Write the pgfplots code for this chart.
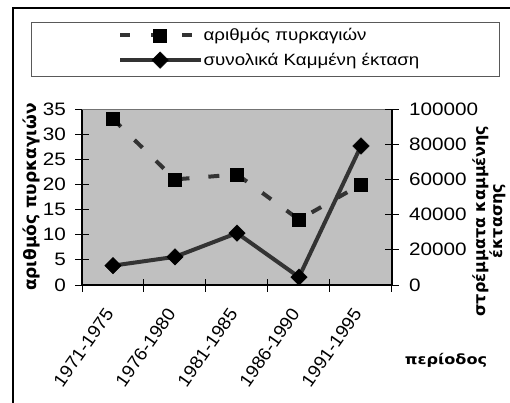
\documentclass[border=0pt]{standalone}
\usepackage{fontspec}
\setmainfont{Liberation Sans}
\newfontfamily\tickff{Liberation Sans}[FakeStretch=1.15]
\newfontfamily\rotff{Liberation Sans}[FakeStretch=1.05]
\newfontfamily\labff{DejaVu Sans}
\newfontfamily\labffH{DejaVu Sans}[FakeStretch=1.15]
\usepackage{pgfplots}
\pgfplotsset{compat=1.18}
\definecolor{plotbg}{HTML}{C0C0C0}
\definecolor{linec}{HTML}{333333}
\newcommand{\tickfont}{\tickff\fontsize{18bp}{20bp}\selectfont}
\newcommand{\rotfont}{\rotff\fontsize{18bp}{20bp}\selectfont}
\newcommand{\legfont}{\tickff\fontsize{16.3bp}{18bp}\selectfont}
\begin{document}
\begin{tikzpicture}
\path[use as bounding box] (0bp,0bp) rectangle (510bp,-403bp);
\draw[black, line width=1.3bp] (13bp,-403bp) -- (13bp,-8bp) -- (510bp,-8bp);
\draw[black!65, line width=0.9bp] (31bp,-22bp) rectangle (499bp,-76bp);
\begin{axis}[
  at={(82bp,-285bp)}, anchor=south west,
  scale only axis, width=310bp, height=176bp,
  xmin=-0.5, xmax=4.5, ymin=0, ymax=35,
  ytick={0,5,...,35},
  xtick={0,1,2,3,4},
  xticklabels={1971-1975,1976-1980,1981-1985,1986-1990,1991-1995},
  minor xtick={-0.5,0.5,...,4.5},
  major x tick style={draw=none},
  tick align=center, major tick length=13bp, minor tick length=13bp,
  tick style={black, line width=1bp},
  axis x line*=bottom, axis y line*=left,
  axis line style={black, line width=1.3bp},
  axis background/.style={fill=plotbg},
  /pgf/number format/assume math mode=true,
  yticklabel style={font=\tickfont, xshift=-6bp},
  xticklabel style={font=\rotfont, yshift=-18bp, xshift=-3bp, rotate=55, anchor=east, inner sep=1bp},
  clip=false,
  extra description/.code={\draw[black!55, line width=1bp] (rel axis cs:0,1) -- (rel axis cs:1,1);},
]
\addplot[linec, line width=4bp, dash pattern=on 11bp off 19bp,
  mark=square*, mark size=6.5bp, mark options={solid, fill=black, draw=black, line width=0.5bp}]
  coordinates {(0,33) (1,21) (2,22) (3,13) (4,20)};
\end{axis}
\begin{axis}[
  at={(82bp,-285bp)}, anchor=south west,
  scale only axis, width=310bp, height=176bp,
  xmin=-0.5, xmax=4.5, ymin=0, ymax=100000,
  ytick={0,20000,...,100000},
  scaled y ticks=false,
  axis y line*=right, axis x line=none,
  tick align=center, major tick length=13bp,
  tick style={black, line width=1bp},
  axis line style={black, line width=1.3bp},
  /pgf/number format/assume math mode=true,
  /pgf/number format/fixed,
  /pgf/number format/precision=0,
  /pgf/number format/1000 sep={},
  yticklabel style={font=\tickfont, xshift=7bp},
  clip=false,
  legend style={at={(axis description cs:0.116,1.47)}, anchor=north west, draw=none, fill=none,
    font=\legfont, inner sep=0pt, row sep=7bp, nodes={inner xsep=0.5bp}},
  legend cell align=left,
  legend image code/.code={\draw[#1, mark repeat=2, mark phase=2] plot coordinates {(0bp,0bp) (40bp,0bp) (81bp,0bp)};},
]
\addlegendimage{linec, line width=4bp, dash pattern=on 10bp off 21bp,
  mark=square*, mark size=6.5bp, mark options={solid, fill=black, draw=black, line width=0.5bp}}
\addlegendentry{αριθμός πυρκαγιών}
\addplot[linec, line width=4bp,
  mark=square*, mark size=5.8bp, mark options={rotate=45, fill=black, draw=black, line width=0.5bp}]
  coordinates {(0,11000) (1,16000) (2,29500) (3,4500) (4,79000)};
\addlegendentry{συνολικά Καμμένη έκταση}
\end{axis}
\node[rotate=90, font=\labff\bfseries\fontsize{17bp}{18bp}\selectfont, inner sep=0pt] at (31bp,-197bp) {αριθμός πυρκαγιών};
\node[rotate=90, align=center, font=\labff\bfseries\fontsize{16bp}{16bp}\selectfont, inner sep=0pt] at (489bp,-221bp) {στρέμματα καμμένης\\έκτασης};
\node[font=\labffH\bfseries\fontsize{14bp}{16bp}\selectfont, inner sep=0pt] at (446bp,-360bp) {περίοδος};
\end{tikzpicture}
\end{document}
